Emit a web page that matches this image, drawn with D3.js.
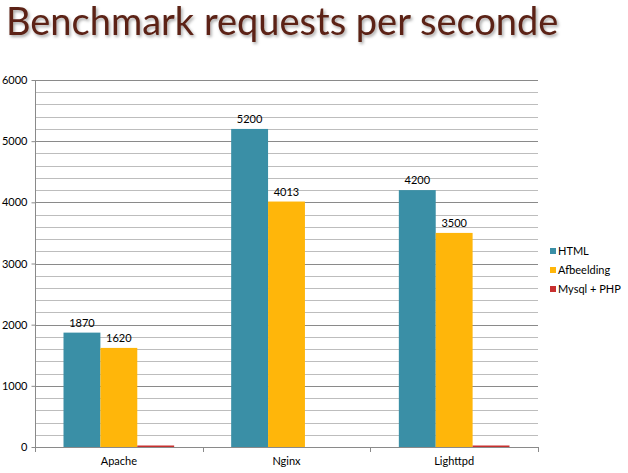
<!DOCTYPE html>
<html><head><meta charset="utf-8">
<script src="https://cdn.jsdelivr.net/npm/d3@7"></script>
<style>
html,body{margin:0;padding:0;background:#fff;}
svg{display:block;}
</style></head>
<body>
<script>
const categories = ["Apache", "Nginx", "Lighttpd"];
const seriesNames = ["HTML", "Afbeelding", "Mysql + PHP"];
const htmlValues = [1870, 5200, 4200];
const afbeeldingValues = [1620, 4013, 3500];
const mysqlValues = [15, 0, 15];
const yTicks = [0, 1000, 2000, 3000, 4000, 5000, 6000];
const colors = ["#3A8FA6", "#FFB60A", "#C8302F"];

(function(){
const series = [htmlValues, afbeeldingValues, mysqlValues];
const W = 628, H = 473;
const svg = d3.select("body").append("svg").attr("width", W).attr("height", H);

const defs = svg.append("defs");
const f = defs.append("filter").attr("id","sh").attr("filterUnits","userSpaceOnUse")
  .attr("x",0).attr("y",0).attr("width",628).attr("height",60);
f.append("feDropShadow").attr("dx",1.5).attr("dy",2).attr("stdDeviation",1.5).attr("flood-color","#000").attr("flood-opacity",0.35);
svg.append("text").attr("x", 6).attr("y", 35)
  .attr("font-family", "'Gill Sans','Gill Sans MT','Lato','Open Sans',sans-serif")
  .attr("font-size", 38).attr("fill", "#5B2417").attr("filter","url(#sh)")
  .text("Benchmark requests per seconde");

const pL = 35, pR = 538, pT = 80, pB = 447;
const x = d3.scaleBand().domain(categories).range([pL, pR]).paddingInner(0).paddingOuter(0);
const y = d3.scaleLinear().domain([0, 6000]).range([pB, pT]);

const minor = d3.range(0, 6001, 200);
svg.append("g").selectAll("line").data(minor).join("line")
  .attr("x1", pL).attr("x2", pR)
  .attr("y1", d => Math.round(y(d)) + 0.5).attr("y2", d => Math.round(y(d)) + 0.5)
  .attr("stroke", d => d % 1000 === 0 ? "#8a8a8a" : "#bdbdbd").attr("stroke-width", 1);

const inner = x.bandwidth() * 0.66;
const x1 = d3.scaleBand().domain(d3.range(series.length)).range([0, inner]);
const g = svg.append("g");
categories.forEach((c, i) => {
  const gx = x(c) + (x.bandwidth() - inner) / 2;
  series.forEach((s, j) => {
    const v = s[i];
    const h = pB - y(v);
    g.append("rect").attr("x", gx + x1(j)).attr("y", v > 0 ? Math.min(y(v), pB - 1.5) : pB)
      .attr("width", x1.bandwidth()).attr("height", v > 0 ? Math.max(h, 1.5) : 0)
      .attr("fill", colors[j]);
    if (j < 2) {
      g.append("text").attr("x", gx + x1(j) + x1.bandwidth() / 2).attr("y", y(v) - 6)
        .attr("text-anchor", "middle").attr("font-family", "Lato, 'Open Sans', sans-serif")
        .attr("font-size", 11).attr("fill", "#000").text(v);
    }
  });
});

const yAxis = d3.axisLeft(y).tickValues(yTicks).tickSize(4).tickPadding(4).tickFormat(d3.format("d"));
const ya = svg.append("g").attr("transform", `translate(${pL + 0.5},0)`).call(yAxis);
ya.select(".domain").attr("stroke", "#8a8a8a").attr("d", `M0,${pT}V${pB}`);
ya.selectAll(".tick line").attr("stroke", "#8a8a8a");
ya.selectAll(".tick text").attr("font-family", "Lato, 'Open Sans', sans-serif").attr("font-size", 11).attr("fill", "#000");

const xa = svg.append("g").attr("transform", `translate(0,${pB + 0.5})`)
  .call(d3.axisBottom(x).tickSize(0).tickPadding(10));
xa.select(".domain").attr("stroke", "#8a8a8a").attr("d", `M${pL},0H${pR}`);
xa.selectAll(".tick text").attr("font-family", "Lato, 'Open Sans', sans-serif").attr("font-size", 11).attr("fill", "#000");
const bounds = categories.map(c => x(c)).concat([pR]);
svg.append("g").selectAll("line").data(bounds).join("line")
  .attr("x1", d => Math.round(d) + 0.5).attr("x2", d => Math.round(d) + 0.5)
  .attr("y1", pB).attr("y2", pB + 5).attr("stroke", "#8a8a8a");

const lg = svg.append("g").attr("transform", "translate(550,248)");
seriesNames.forEach((n, i) => {
  lg.append("rect").attr("x", 0).attr("y", i * 19).attr("width", 6).attr("height", 6).attr("fill", colors[i]);
  lg.append("text").attr("x", 8).attr("y", i * 19 + 7).attr("font-family", "Lato, 'Open Sans', sans-serif")
    .attr("font-size", 11).attr("fill", "#000").text(n);
});
})();
</script>
</body></html>
